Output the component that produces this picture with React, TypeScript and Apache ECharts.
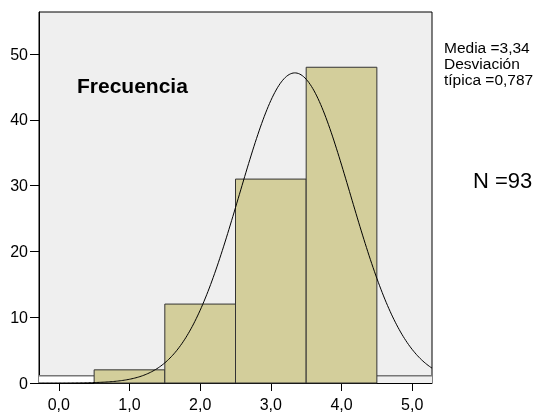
import React, { useEffect, useRef } from "react";
import * as echarts from "echarts";

const binStarts = [0.5, 1.5, 2.5, 3.5];
const binEnds = [1.5, 2.5, 3.5, 4.5];
const frequencies = [2, 12, 31, 48];
const edgeStarts = [-0.28, 4.5];
const edgeEnds = [0.5, 5.28];
const edgeHeights = [1.1, 1.1];
const edgeFills = ["#FFFFFF", "#EFEFEF"];
const xTicks = [0, 1, 2, 3, 4, 5];
const yTicks = [0, 10, 20, 30, 40, 50];
const xMin = -0.28;
const xMax = 5.28;
const yMax = 56.4;
const mean = 3.34;
const sd = 0.787;
const n = 93;
const binWidth = 1;
const yLabel = "Frecuencia";
const statsText = "Media =3,34\nDesviación\ntípica =0,787";
const nText = "N =93";

export default function App() {
  const ref = useRef<HTMLDivElement>(null);
  useEffect(() => {
    if (!ref.current) return;
    const chart = echarts.init(ref.current, undefined, { renderer: "svg" });
    const bars = binStarts.map((s, i) => [s, binEnds[i], frequencies[i]]);
    const edges = edgeStarts.map((s, i) => [s, edgeEnds[i], edgeHeights[i], i]);
    const curve: number[][] = [];
    const steps = 300;
    for (let k = 0; k <= steps; k++) {
      const x = xMin + ((xMax - xMin) * k) / steps;
      const z = (x - mean) / sd;
      curve.push([x, (n * binWidth * Math.exp(-0.5 * z * z)) / (sd * Math.sqrt(2 * Math.PI))]);
    }
    const font = "'Liberation Sans', Arial, sans-serif";
    chart.setOption({
      animation: false,
      grid: {
        left: 39,
        top: 12,
        width: 393,
        height: 372,
        show: true,
        backgroundColor: "#EFEFEF",
        borderColor: "#000",
        borderWidth: 1,
      },
      xAxis: {
        type: "value",
        min: xMin,
        max: xMax,
        splitLine: { show: false },
        axisLine: { onZero: false, lineStyle: { color: "#000", width: 1 } },
        axisTick: { customValues: xTicks, length: 8, lineStyle: { color: "#000" } },
        axisLabel: {
          customValues: xTicks,
          margin: 13,
          color: "#000",
          fontSize: 16,
          fontFamily: font,
          formatter: (v: number) => v.toFixed(1).replace(".", ","),
        },
      },
      yAxis: {
        type: "value",
        min: 0,
        max: yMax,
        splitLine: { show: false },
        axisLine: { show: true, onZero: false, lineStyle: { color: "#000", width: 1 } },
        axisTick: { show: true, customValues: yTicks, length: 9, lineStyle: { color: "#000" } },
        axisLabel: {
          customValues: yTicks,
          margin: 11,
          color: "#000",
          fontSize: 16,
          fontFamily: font,
        },
      },
      series: [
        {
          type: "custom",
          data: edges,
          encode: { x: [0, 1], y: 2 },
          renderItem: (params: any, api: any) => {
            const p0 = api.coord([api.value(0), 0]);
            const p1 = api.coord([api.value(1), api.value(2)]);
            const fill = edgeFills[api.value(3)];
            return {
              type: "group",
              children: [
                {
                  type: "rect",
                  shape: { x: p0[0], y: p1[1], width: p1[0] - p0[0], height: p0[1] - p1[1] },
                  style: { fill, stroke: "none" },
                },
                {
                  type: "line",
                  shape: { x1: p0[0], y1: p1[1], x2: p1[0], y2: p1[1] },
                  style: { stroke: "#777", lineWidth: 1.5 },
                },
              ],
            };
          },
        },
        {
          type: "custom",
          data: bars,
          encode: { x: [0, 1], y: 2 },
          renderItem: (params: any, api: any) => {
            const p0 = api.coord([api.value(0), 0]);
            const p1 = api.coord([api.value(1), api.value(2)]);
            return {
              type: "rect",
              shape: { x: p0[0], y: p1[1], width: p1[0] - p0[0], height: p0[1] - p1[1] },
              style: { fill: "#D3CE9B", stroke: "#333", lineWidth: 1 },
            };
          },
        },
        {
          type: "line",
          data: curve,
          showSymbol: false,
          symbol: "none",
          clip: true,
          lineStyle: { color: "#000", width: 1 },
          z: 5,
        },
      ],
      graphic: [
        {
          type: "text",
          left: 77,
          top: 75,
          style: { text: yLabel, font: `bold 21px ${font}`, fill: "#000" },
        },
        {
          type: "text",
          left: 444,
          top: 39,
          style: { text: statsText, font: `15.5px ${font}`, lineHeight: 16, fill: "#000" },
        },
        {
          type: "text",
          left: 473,
          top: 169,
          style: { text: nText, font: `22px ${font}`, fill: "#000" },
        },
      ],
    });
    return () => chart.dispose();
  }, []);
  return <div ref={ref} style={{ position: "fixed", left: 0, top: 0, width: 547, height: 412 }} />;
}
